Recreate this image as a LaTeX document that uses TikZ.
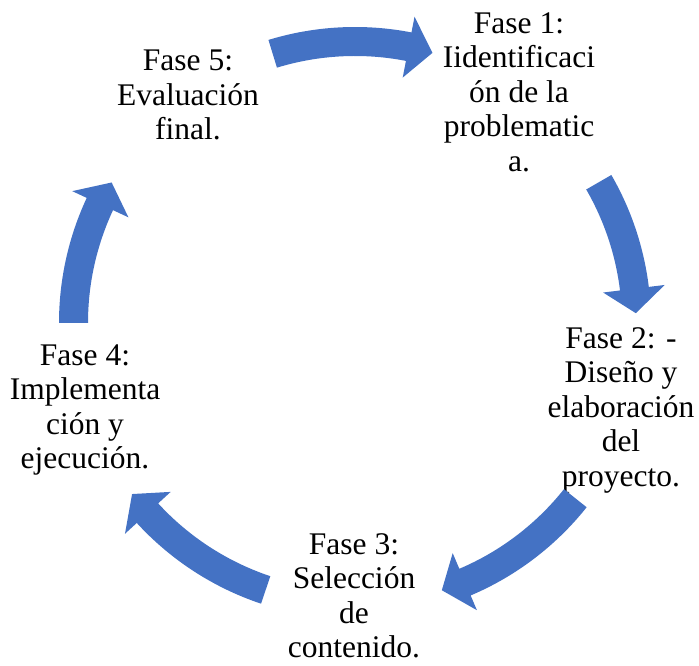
\documentclass[tikz,border=0pt]{standalone}
\usepackage{fontspec}
\setmainfont{Liberation Serif}
\definecolor{cycleblue}{HTML}{4472C4}
\tikzset{
  phase/.style={align=center, inner sep=0pt,
    font=\fontsize{31.5}{34.5}\selectfont},
  arrowfill/.style={fill=cycleblue, draw=none}
}
% Curved block arrow on the cycle circle: #1 = tail angle, #2 = tip angle
\newcommand\cyclearrow[2]{%
  \pgfmathsetmacro\headbase{#2+5}%
  \fill[arrowfill] (#1:296) arc[start angle=#1, end angle=\headbase, radius=296]
    -- (\headbase:312) -- (#2:281) -- (\headbase:250) -- (\headbase:267)
    arc[start angle=\headbase, end angle=#1, radius=267] -- cycle;%
}
\begin{document}
\begin{tikzpicture}[x=1pt, y=1pt]
\useasboundingbox (0,0) rectangle (699,666);
\coordinate (C) at (355,343);

\node[phase] (f1) at (519,574) {Fase 1:\\Iidentificaci\\ón de la\\problematic\\a.};
\node[phase] (f2) at (621,256) {Fase 2: -\\Diseño y\\elaboración\\del\\proyecto.};
\node[phase] (f3) at (354,70) {Fase 3:\\Selección\\de\\contenido.};
\node[phase] (f4) at (85,256) {Fase 4:\\Implementa\\ción y\\ejecución.};
\node[phase] (f5) at (188,571) {Fase 5:\\Evaluación\\final.};

\begin{scope}[shift={(C)}]
  \cyclearrow{107}{74}    % f5 -> f1
  \cyclearrow{30}{2}      % f1 -> f2
  \cyclearrow{-38.5}{-72} % f2 -> f3
  \cyclearrow{-108.5}{-142.5} % f3 -> f4
  \cyclearrow{180}{150}   % f4 -> f5
\end{scope}
\end{tikzpicture}
\end{document}
